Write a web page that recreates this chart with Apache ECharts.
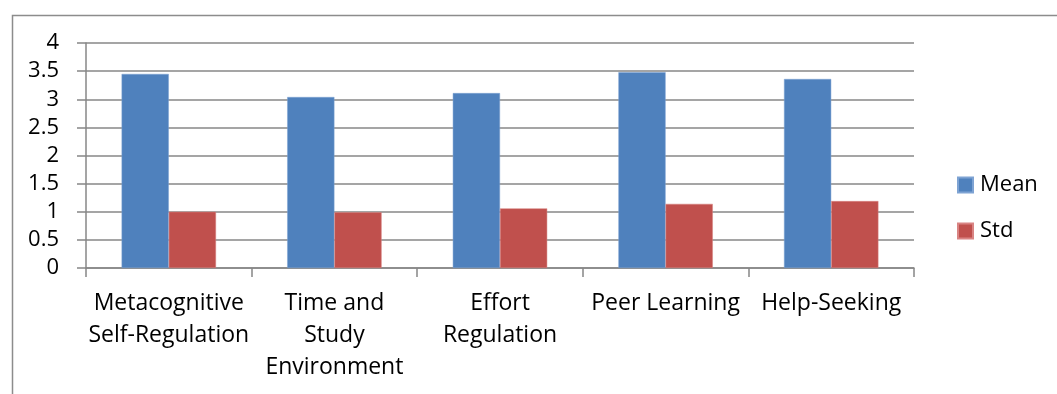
<!DOCTYPE html>
<html>
<head>
<meta charset="utf-8">
<script src="https://cdn.jsdelivr.net/npm/echarts@6/dist/echarts.min.js"></script>
<style>
html,body{margin:0;padding:0;background:#fff;}
#c{width:1057px;height:394px;}
</style>
</head>
<body>
<div id="c"></div>
<script>
const categories = ["Metacognitive\nSelf-Regulation", "Time and\nStudy\nEnvironment", "Effort\nRegulation", "Peer Learning", "Help-Seeking"];
const meanValues = [3.45, 3.04, 3.11, 3.48, 3.36];
const stdValues = [1.00, 0.99, 1.06, 1.14, 1.19];
const seriesNames = ["Mean", "Std"];

const FONT = "Open Sans";
const GRID_COLOR = "#878787";
const chart = echarts.init(document.getElementById('c'), null, {renderer: 'canvas'});
chart.setOption({
  animation: false,
  backgroundColor: '#fff',
  graphic: [{
    type: 'rect', left: 10, top: 13, silent: true,
    shape: {width: 1200, height: 600},
    style: {fill: 'none', stroke: '#8c8c8c', lineWidth: 1.5}
  }],
  grid: {left: 86, right: 143, top: 43, bottom: 126, containLabel: false},
  legend: {
    orient: 'vertical', left: 952, top: 169,
    itemWidth: 15, itemHeight: 15, itemGap: 24,
    icon: 'rect',
    textStyle: {fontFamily: FONT, fontSize: 22, color: '#000', padding: [0, 0, 0, 2]},
    data: seriesNames
  },
  xAxis: {
    type: 'category', data: categories,
    axisLine: {lineStyle: {color: GRID_COLOR, width: 1.5}},
    axisTick: {show: true, length: 9, lineStyle: {color: GRID_COLOR, width: 1.5}},
    axisLabel: {interval: 0, margin: 19, fontFamily: FONT, fontSize: 23, color: '#000', lineHeight: 32}
  },
  yAxis: {
    type: 'value', min: 0, max: 4, interval: 0.5,
    axisLine: {show: true, lineStyle: {color: GRID_COLOR, width: 1.5}},
    axisTick: {show: true, length: 9, lineStyle: {color: GRID_COLOR, width: 1.5}},
    splitLine: {lineStyle: {color: GRID_COLOR, width: 1.5}},
    axisLabel: {margin: 27, fontFamily: FONT, fontSize: 22, color: '#000'}
  },
  series: [
    {name: seriesNames[0], type: 'bar', data: meanValues, barGap: '0%', barCategoryGap: '43%',
     itemStyle: {color: '#4F81BD', borderColor: '#7EA3D3', borderWidth: 0.5}},
    {name: seriesNames[1], type: 'bar', data: stdValues, barGap: '0%', barCategoryGap: '43%',
     itemStyle: {color: '#C0504D', borderColor: '#D98483', borderWidth: 0.5}}
  ]
});
</script>
</body>
</html>
